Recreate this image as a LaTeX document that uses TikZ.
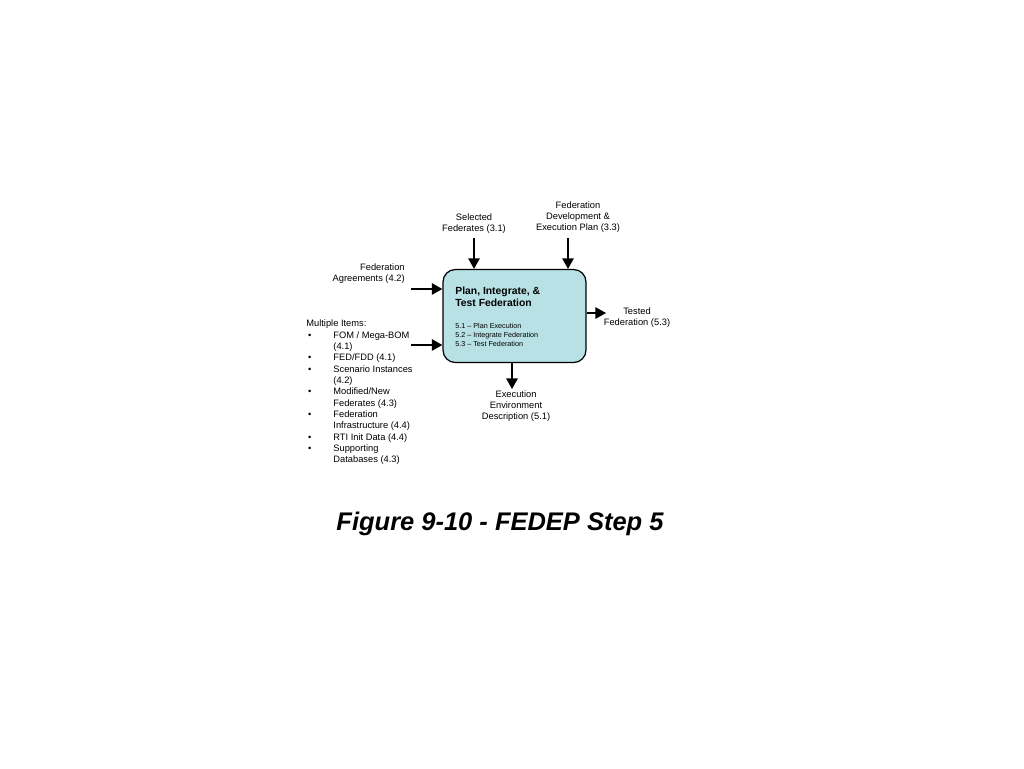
\documentclass[tikz,border=0pt]{standalone}
\usepackage{fontspec}
\setmainfont{Liberation Sans}
\usetikzlibrary{arrows.meta}

\definecolor{stepfill}{RGB}{183,225,228}
\newcommand{\lbul}{\makebox[15.4pt][l]{\hspace{1pt}\textbullet}}
\newcommand{\lgap}{\hspace*{15.4pt}}

\tikzset{
	lbl/.style={align=center, inner sep=0pt, font=\fontsize{5.3}{6.4}\selectfont},
	flow/.style={-{Triangle[length=6pt,width=6.5pt]}, line width=0.8pt},
}

\begin{document}
\begin{tikzpicture}[x=0.02cm,y=-0.02cm]
		\useasboundingbox (0,0) rectangle (1024,768);

				\node [draw, fill=stepfill, rounded corners=7pt, line width=0.7pt, minimum width=2.86cm, minimum height=1.86cm] (S5) at (514.5,316) {};
				\node [anchor=west, align=left, inner sep=0pt, font=\fontsize{5.9}{6.8}\selectfont\bfseries] (S5title) at (455,297) {Plan, Integrate, \&\\Test Federation};
				\node [anchor=west, align=left, inner sep=0pt, font=\fontsize{4.1}{5.1}\selectfont] (S5acts) at (455,335) {5.1 -- Plan Execution\\5.2 -- Integrate Federation\\5.3 -- Test Federation};

				\node [lbl] (SelFed) at (474,223.5) {Selected\\Federates (3.1)};
				\node [lbl] (FedPlan) at (578,217) {Federation\\Development \&\\Execution Plan (3.3)};
				\node [lbl, align=right, anchor=east] (FedAgr) at (405,273.5) {Federation\\Agreements (4.2)};
				\node [lbl] (TestFed) at (637,317.5) {Tested\\Federation (5.3)};
				\node [lbl] (ExecEnv) at (516,406) {Execution\\Environment\\Description (5.1)};
				\node [lbl, align=left, anchor=west, font=\fontsize{5.3}{6.45}\selectfont] (Multi) at (306,392.5) {Multiple Items:\\
					\lbul FOM / Mega-BOM\\ \lgap(4.1)\\
					\lbul FED/FDD (4.1)\\
					\lbul Scenario Instances\\ \lgap(4.2)\\
					\lbul Modified/New\\ \lgap Federates (4.3)\\
					\lbul Federation\\ \lgap Infrastructure (4.4)\\
					\lbul RTI Init Data (4.4)\\
					\lbul Supporting\\ \lgap Databases (4.3)};

				\node [font=\fontsize{14.5}{17}\selectfont\bfseries\itshape] (Cap) at (500,524) {Figure 9-10 - FEDEP Step 5};

				\coordinate (I0) at (474,238);
				\coordinate (I1) at (568,238);
				\coordinate (I2) at (411,289);
				\coordinate (I3) at (411,345);
				\coordinate (O0) at (606,313);
				\coordinate (O1) at (512,389);

				\draw [flow] (I0) -- (S5.north -| I0);
				\draw [flow] (I1) -- (S5.north -| I1);
				\draw [flow] (I2) -- (S5.west |- I2);
				\draw [flow] (I3) -- (S5.west |- I3);
				\draw [flow] (S5.east |- O0) -- (O0);
				\draw [flow] (S5.south -| O1) -- (O1);
		\end{tikzpicture}
\end{document}
